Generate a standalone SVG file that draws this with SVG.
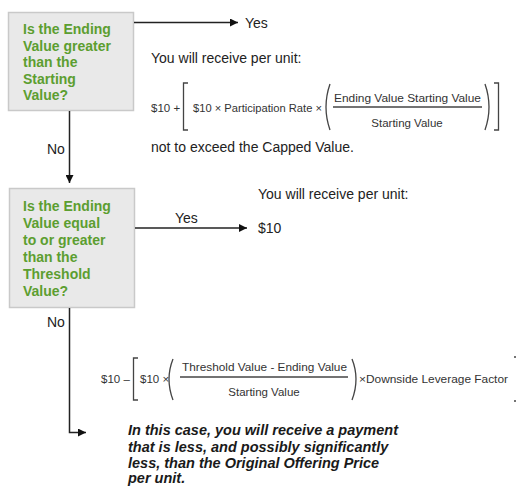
<svg xmlns="http://www.w3.org/2000/svg" width="516" height="487" viewBox="0 0 516 487">
<defs>
<style>
.box{fill:#e9e9e9;stroke:#c9c9c9;stroke-width:1.5}
.q{font-family:"Liberation Sans",Arial,sans-serif;font-weight:bold;font-size:14px;fill:#5c9e30}
.t{font-family:"Liberation Sans",Arial,sans-serif;font-size:14px;fill:#222}
.f{font-family:"Liberation Sans",Arial,sans-serif;font-size:11.5px;fill:#333}
.it{font-family:"Liberation Sans",Arial,sans-serif;font-size:14.5px;font-weight:bold;font-style:italic;fill:#1a1a1a}
.ln{fill:none;stroke:#222;stroke-width:1.5}
.br{fill:none;stroke:#444;stroke-width:1.3}
</style>
<marker id="ah" viewBox="0 0 10 10" refX="10" refY="5" markerWidth="8" markerHeight="8" markerUnits="userSpaceOnUse" orient="auto">
<path d="M0,0 L10,5 L0,10 Z" fill="#111"/>
</marker>
</defs>
<rect width="516" height="487" fill="#fff"/>

<g id="q1">
<rect class="box" x="8.5" y="12.5" width="125" height="98"/>
<text class="q" x="23" y="34">Is the Ending</text>
<text class="q" x="23" y="50.5">Value greater</text>
<text class="q" x="23" y="67">than the</text>
<text class="q" x="23" y="84">Starting</text>
<text class="q" x="23" y="100">Value?</text>
</g>

<g id="q2">
<rect class="box" x="9.5" y="188.5" width="125" height="119"/>
<text class="q" x="23" y="211">Is the Ending</text>
<text class="q" x="23" y="228">Value equal</text>
<text class="q" x="23" y="245">to or greater</text>
<text class="q" x="23" y="262">than the</text>
<text class="q" x="23" y="279">Threshold</text>
<text class="q" x="23" y="296">Value?</text>
</g>

<g id="connectors">
<line class="ln" x1="134" y1="22.5" x2="238" y2="22.5" marker-end="url(#ah)"/>
<line class="ln" x1="69.5" y1="111" x2="69.5" y2="183" marker-end="url(#ah)"/>
<line class="ln" x1="135" y1="228" x2="247" y2="228" marker-end="url(#ah)"/>
<polyline class="ln" points="69.5,308 69.5,432.5 86,432.5" marker-end="url(#ah)"/>
<text class="t" x="245" y="28">Yes</text>
<text class="t" x="47" y="154">No</text>
<text class="t" x="175" y="223">Yes</text>
<text class="t" x="47" y="327">No</text>
</g>

<g id="result1">
<text class="t" x="151" y="63">You will receive per unit:</text>
<text class="f" x="151" y="112">$10 +</text>
<path class="br" d="M188,83 H183.5 V130 H188"/>
<text class="f" x="193" y="112" textLength="129" lengthAdjust="spacingAndGlyphs">$10 × Participation Rate ×</text>
<path class="br" d="M330,84 Q322,107 330,130"/>
<text class="f" x="334" y="102" textLength="147" lengthAdjust="spacingAndGlyphs">Ending Value  Starting Value</text>
<line class="br" x1="333" y1="107" x2="482" y2="107"/>
<text class="f" x="407" y="127" text-anchor="middle">Starting Value</text>
<path class="br" d="M485,84 Q493,107 485,130"/>
<path class="br" d="M494,83 H498.5 V130 H494"/>
<text class="t" x="151" y="152">not to exceed the Capped Value.</text>
</g>

<g id="result2">
<text class="t" x="258" y="199">You will receive per unit:</text>
<text class="t" x="258" y="233">$10</text>
</g>

<g id="result3">
<text class="f" x="101" y="383">$10 –</text>
<path class="br" d="M138,358 H133.5 V400 H138"/>
<text class="f" x="140" y="383">$10 ×</text>
<path class="br" d="M173,359 Q165,379 173,400"/>
<text class="f" x="182" y="371" textLength="165" lengthAdjust="spacingAndGlyphs">Threshold Value - Ending Value</text>
<line class="br" x1="180" y1="377" x2="348" y2="377"/>
<text class="f" x="264" y="396" text-anchor="middle">Starting Value</text>
<path class="br" d="M352,359 Q360,379 352,400"/>
<text class="f" x="359" y="383" textLength="149" lengthAdjust="spacingAndGlyphs">×Downside Leverage Factor</text>
<line class="br" x1="514" y1="357" x2="516" y2="357"/>
<line class="br" x1="514" y1="401" x2="516" y2="401"/>
<text class="it" x="128" y="435">In this case, you will receive a payment</text>
<text class="it" x="128" y="452">that is less, and possibly significantly</text>
<text class="it" x="128" y="468">less, than the Original Offering Price</text>
<text class="it" x="128" y="483">per unit.</text>
</g>
</svg>
